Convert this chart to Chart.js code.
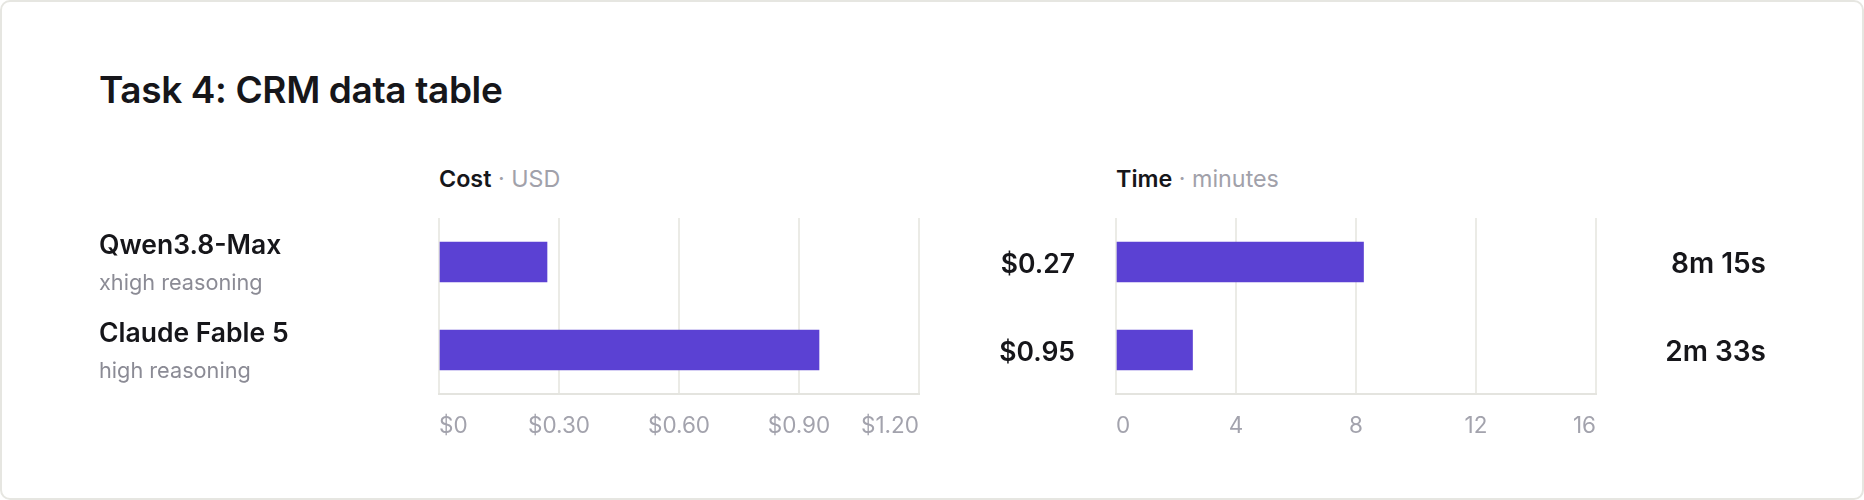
<!DOCTYPE html>
<html>
<head>
<meta charset="utf-8">
<script src="https://cdn.jsdelivr.net/npm/chart.js@4.4.1/dist/chart.umd.min.js"></script>
<style>
  html, body { margin: 0; padding: 0; background: #fff; }
  body { width: 1864px; height: 500px; position: relative; overflow: hidden; font-family: Inter, "Noto Sans", sans-serif; }
  .card { position: absolute; left: 0; top: 0; width: 1864px; height: 500px; box-sizing: border-box; border: 2px solid #e6e6e1; border-radius: 10px; }
  h1 { position: absolute; left: 99px; top: 71px; margin: 0; font-size: 37px; line-height: 37px; letter-spacing: -0.37px; font-weight: 600; color: #16161a; white-space: nowrap; }
  .hdr { position: absolute; top: 167px; font-size: 23.3px; line-height: 23px; white-space: nowrap; }
  .hdr b { font-weight: 600; color: #16161a; }
  .hdr span { font-weight: 400; color: #a1a1aa; }
  canvas { position: absolute; top: 200px; }
  #costChart { left: 0; }
  #timeChart { left: 1095px; }
</style>
</head>
<body>
<div class="card"></div>
<h1>Task 4: CRM data table</h1>
<div class="hdr" style="left:439px"><b>Cost</b><span> · USD</span></div>
<div class="hdr" style="left:1116px"><b>Time</b><span> · minutes</span></div>
<canvas id="costChart" width="1095" height="260"></canvas>
<canvas id="timeChart" width="769" height="260"></canvas>
<script>
// Modelos y resultados de la tarea
const models = ['Qwen3.8-Max', 'Claude Fable 5'];
const reasoning = ['xhigh reasoning', 'high reasoning'];
const costUsd = [0.27, 0.95];
const timeMin = [8.25, 2.55];
const costTicks = ['$0', '$0.30', '$0.60', '$0.90', '$1.20'];
const timeTicks = ['0', '4', '8', '12', '16'];

const FONT = 'Inter, "Noto Sans", sans-serif';
const BAR = '#5b41d3';
const GRID = '#ebebe6';

function fmtTime(v) {
  const m = Math.floor(v);
  const s = Math.round((v - m) * 60);
  return m + 'm ' + s + 's';
}

// Etiquetas de valor a la derecha de cada barra
function valueLabels(fmt, rightX, size) {
  return {
    id: 'valueLabels',
    afterDatasetsDraw(chart) {
      const ctx = chart.ctx;
      const meta = chart.getDatasetMeta(0);
      ctx.save();
      ctx.font = '600 ' + size + 'px ' + FONT;
      ctx.fillStyle = '#16161a';
      ctx.textAlign = 'right';
      ctx.textBaseline = 'alphabetic';
      meta.data.forEach((bar, i) => {
        ctx.fillText(fmt(chart.data.datasets[0].data[i]), rightX, bar.y + 10.5);
      });
      ctx.restore();
    }
  };
}

// Nombres de modelos a la izquierda
const modelLabels = {
  id: 'modelLabels',
  afterDatasetsDraw(chart) {
    const ctx = chart.ctx;
    const yScale = chart.scales.y;
    ctx.save();
    ctx.textAlign = 'left';
    ctx.textBaseline = 'alphabetic';
    models.forEach((name, i) => {
      const y = yScale.getPixelForValue(i);
      ctx.font = '600 26.5px ' + FONT;
      ctx.fillStyle = '#16161a';
      ctx.fillText(name, 99, y - 8.5);
      ctx.font = '400 21.7px ' + FONT;
      ctx.fillStyle = '#8b8b95';
      ctx.fillText(reasoning[i], 99, y + 27.5);
    });
    ctx.restore();
  }
};

function makeChart(id, values, max, step, tickLabels, padding, plugins) {
  return new Chart(document.getElementById(id), {
    type: 'bar',
    data: {
      labels: models,
      datasets: [{
        data: values,
        backgroundColor: BAR,
        barThickness: 40,
        borderRadius: 0
      }]
    },
    options: {
      indexAxis: 'y',
      responsive: false,
      animation: false,
      layout: { padding: padding },
      scales: {
        x: {
          min: 0,
          max: max,
          ticks: {
            stepSize: step,
            align: 'inner',
            padding: 19,
            color: '#a3a3ad',
            font: { family: FONT, size: 22.5 },
            callback: (v, i) => tickLabels[i]
          },
          grid: { color: GRID, lineWidth: 2, drawTicks: false },
          border: { display: true, color: '#e4e4df', width: 2 },
          afterFit(scale) { scale.height = 66; }
        },
        y: { display: false }
      },
      plugins: { legend: { display: false }, tooltip: { enabled: false } }
    },
    plugins: plugins
  });
}

Promise.all([
  document.fonts.load('600 24px Inter'),
  document.fonts.load('400 22px Inter')
]).then(() => {
  makeChart('costChart', costUsd, 1.2, 0.3, costTicks,
    { left: 439, right: 176, top: 18, bottom: 0 },
    [modelLabels, valueLabels(v => '$' + v.toFixed(2), 1075, 26.5)]);
  makeChart('timeChart', timeMin, 16, 4, timeTicks,
    { left: 21, right: 268, top: 18, bottom: 0 },
    [valueLabels(fmtTime, 671, 28)]);
});
</script>
</body>
</html>
